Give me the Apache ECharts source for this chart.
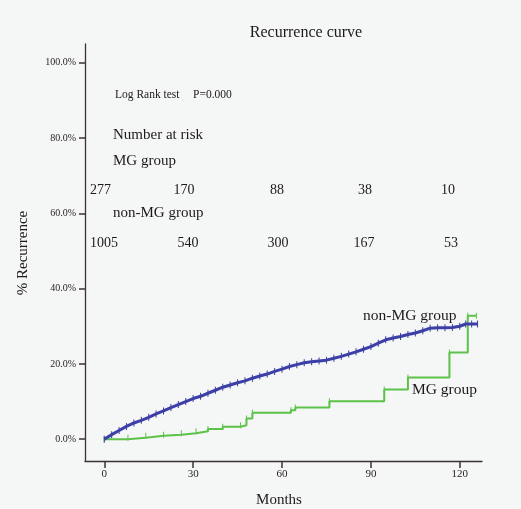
<!DOCTYPE html>
<html><head><meta charset="utf-8">
<script src="https://cdn.jsdelivr.net/npm/echarts@6/dist/echarts.min.js"></script>
<style>html,body{margin:0;padding:0;background:#f5f6f6}#c{width:521px;height:509px}</style>
</head><body><div id="c"></div>
<script>
const xTicks = [0, 30, 60, 90, 120];
const yTicks = [0, 20, 40, 60, 80, 100];
// non-MG group cumulative recurrence (%) vs months
const nonMG = [[0,0],[2.5,1.2],[5,2.3],[7.5,3.4],[10,4.3],[12.5,5.0],[15,5.8],[17.5,6.7],[20,7.5],[22.5,8.4],[25,9.2],[27.5,10.0],[30,10.8],[32.5,11.4],[35,12.2],[37.5,13.0],[40,13.8],[42.5,14.4],[45,15],[47.5,15.5],[50,16.2],[52.5,16.8],[55,17.3],[57.5,18.0],[60,18.6],[62.5,19.3],[65,19.8],[67.5,20.3],[70,20.6],[72.5,20.8],[75,21.0],[77.5,21.5],[80,22.0],[82.5,22.6],[85,23.2],[87.5,23.9],[90,24.6],[92.5,25.5],[95,26.4],[97.5,26.9],[100,27.3],[102.5,27.8],[105,28.2],[107.5,28.8],[110,29.5],[112.5,29.6],[115,29.6],[117.5,29.7],[120,30.0],[122,30.6],[124,30.6],[126,30.6]];
// MG group cumulative recurrence (%) vs months (step function)
const MG = [[0,0],[8,0.4],[14,0.9],[20,1.2],[26,1.6],[31,2.1],[35,2.7],[40,3.3],[46,3.7],[48,5.5],[50,7.0],[63,7.7],[64.5,8.4],[76,10.1],[94.5,13.2],[102.5,16.4],[116.5,23.0],[122.7,32.8],[125.6,32.8]];
const riskMG = ['277','170','88','38','10'];
const riskNonMG = ['1005','540','300','167','53'];

const F = 'Liberation Serif, Times New Roman, serif';
const axisCol = '#3b3333';
const chart = echarts.init(document.getElementById('c'));
const txt = (x, y, s, size, align) => ({type:'text', x:x, y:y, style:{text:s, font: size+'px '+F, fill:'#1e1a1a', textAlign:align||'left', textVerticalAlign:'middle'}});
const riskX1 = [90,184,277,365,448];
const riskX2 = [90,188,278,364,451];
const graphics = [
  txt(306,33,'Recurrence curve',16,'center'),
  txt(115,95,'Log Rank test',11.5),
  txt(193,95,'P=0.000',11.5),
  txt(113,135,'Number at risk',15),
  txt(113,161,'MG group',15),
  txt(113,213,'non-MG group',15),
  txt(363,316,'non-MG group',15.5),
  txt(412,390,'MG group',15.5),
  txt(279,500,'Months',15,'center'),
  {type:'text', x:23, y:253, rotation:Math.PI/2, style:{text:'% Recurrence', font:'15px '+F, fill:'#1e1a1a', textAlign:'center', textVerticalAlign:'middle'}}
];
riskMG.forEach((s,i)=>graphics.push(txt(riskX1[i],190,s,14,i===0?'left':'center')));
riskNonMG.forEach((s,i)=>graphics.push(txt(riskX2[i],243,s,14,i===0?'left':'center')));

chart.setOption({
  backgroundColor:'#f5f6f6',
  animation:false,
  grid:{left:85,right:39,top:44,bottom:48,containLabel:false},
  xAxis:{type:'value',min:-6.5,max:127.5,
    axisLine:{show:true,onZero:false,lineStyle:{color:axisCol,width:1.3}},
    axisTick:{show:true,length:7,customValues:xTicks,lineStyle:{color:axisCol,width:1.5}},
    axisLabel:{customValues:xTicks,fontFamily:F,fontSize:11,color:'#2a2424',margin:8},
    splitLine:{show:false}},
  yAxis:{type:'value',min:-5.8,max:105,
    axisLine:{show:true,onZero:false,lineStyle:{color:axisCol,width:1.3}},
    axisTick:{show:true,length:6,customValues:yTicks,lineStyle:{color:axisCol,width:1.5}},
    axisLabel:{customValues:yTicks,fontFamily:F,fontSize:10,color:'#2a2424',margin:9,formatter:v=>v.toFixed(1)+'%'},
    splitLine:{show:false}},
  graphic:graphics,
  series:[
    {type:'line',name:'non-MG group',data:nonMG,showSymbol:true,symbol:'rect',symbolSize:[1,7],
     itemStyle:{color:'#3c3fa6'},lineStyle:{color:'#3c3fa6',width:3},z:3},
    {type:'line',name:'MG group',data:MG,step:'end',showSymbol:true,symbol:'rect',symbolSize:[1,6],
     itemStyle:{color:'#5cc24a'},lineStyle:{color:'#5cc24a',width:2},z:2}
  ]
});
</script></body></html>
